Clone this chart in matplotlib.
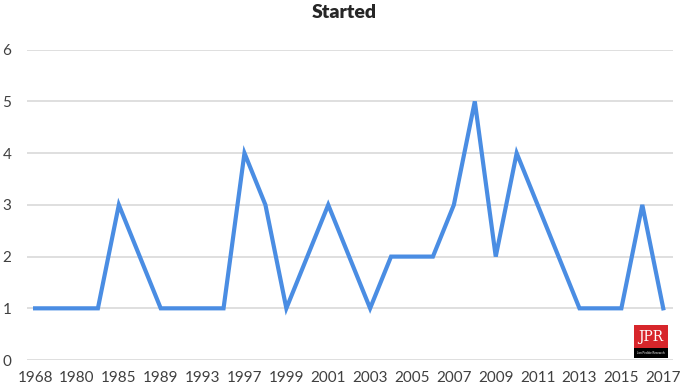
import matplotlib.pyplot as plt
from matplotlib.patches import Rectangle

# categories (odd-position years are hidden in the reference, estimated)
years = ['1968', '1978', '1980', '1983', '1985', '1987', '1989', '1991', '1993', '1995',
         '1997', '1998', '1999', '2000', '2001', '2002', '2003', '2004', '2005', '2006',
         '2007', '2008', '2009', '2010', '2011', '2012', '2013', '2014', '2015', '2016',
         '2017']
started = [1, 1, 1, 1, 3, 2, 1, 1, 1, 1,
           4, 3, 1, 2, 3, 2, 1, 2, 2, 2,
           3, 5, 2, 4, 3, 2, 1, 1, 1, 3,
           1]
y_ticks = [0, 1, 2, 3, 4, 5, 6]

plt.rcParams['font.family'] = ['Lato', 'DejaVu Sans']

fig = plt.figure(figsize=(6.85, 3.88), dpi=100)
ax = fig.add_axes([0.039, 0.072, 0.943, 0.800])

x = list(range(len(years)))
ax.plot(x, started, color='#4A8DE3', linewidth=3.0, solid_joinstyle='miter', zorder=3)

ax.set_xlim(-0.4, len(years) - 0.55)
ax.set_ylim(0, 6)
ax.set_yticks(y_ticks)
ax.set_xticks(x[::2])
ax.set_xticklabels(years[::2])
ax.grid(axis='y', color='#D9D9D9', linewidth=1.2)
ax.set_axisbelow(True)
for s in ax.spines.values():
    s.set_visible(False)
ax.tick_params(length=0, labelsize=11, labelcolor='#404040')
ax.tick_params(axis='y', pad=11)
ax.tick_params(axis='x', pad=8)

fig.text(0.503, 0.968, 'Started', ha='center', va='center', fontsize=14,
         fontweight='heavy', color='#262626')

# JPR logo
fig.patches.append(Rectangle((0.925, 0.100), 0.05, 0.062, transform=fig.transFigure,
                             facecolor='#D7262B', edgecolor='none', zorder=5))
fig.patches.append(Rectangle((0.925, 0.078), 0.05, 0.024, transform=fig.transFigure,
                             facecolor='black', edgecolor='none', zorder=5))
fig.text(0.950, 0.131, 'JPR', ha='center', va='center', fontsize=10,
         family='DejaVu Serif', color='white', zorder=6)
fig.text(0.950, 0.090, 'Jon Peddie Research', ha='center', va='center', fontsize=2.2,
         color='white', zorder=6)

fig.savefig('out.png', dpi=100)
